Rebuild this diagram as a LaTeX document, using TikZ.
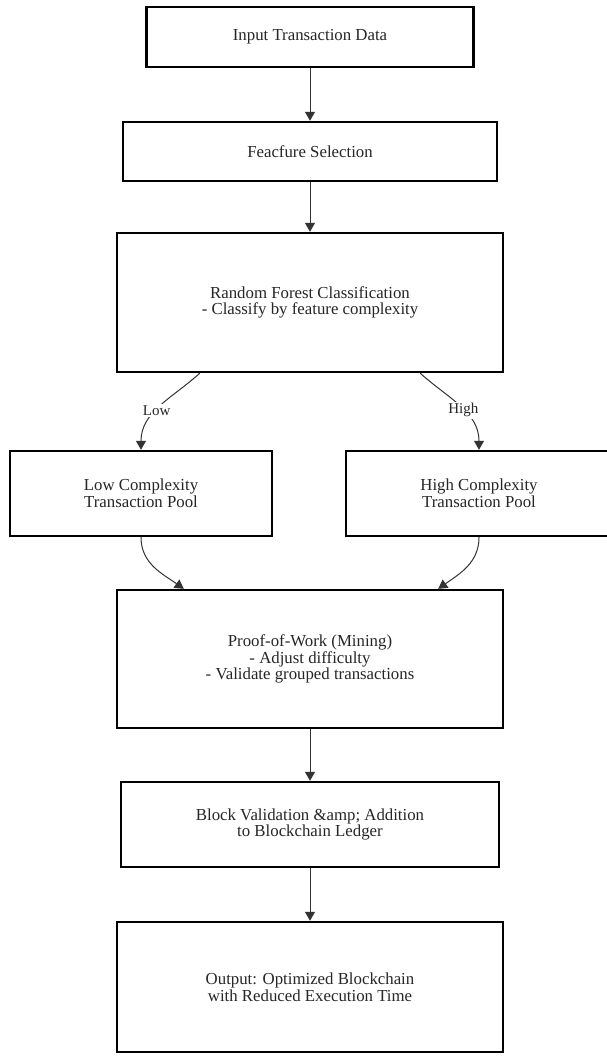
\documentclass[tikz,border=0pt]{standalone}
\usepackage{fontspec}
\setmainfont{Liberation Serif}
\usetikzlibrary{arrows.meta,calc}
\definecolor{txt}{HTML}{262626}
\definecolor{ln}{HTML}{333333}
\begin{document}
\begin{tikzpicture}[x=1pt,y=1pt,
  box/.style={draw=black, line width=2.4pt, fill=white, align=center, text=txt,
    font=\fontsize{16.8}{16.8}\selectfont, inner sep=0pt},
  arr/.style={draw=ln, line width=1pt, -{Triangle[width=10pt,length=9pt]}},
  lbl/.style={fill=white, text=txt, font=\fontsize{15}{16}\selectfont, inner sep=1.5pt}]
\useasboundingbox (0,0) rectangle (606,1058);
\fill[white] (0,0) rectangle (606,1058);
\node[box, minimum width=327pt, minimum height=60pt] (inp) at (310,1021) {Input Transaction Data};
\node[box, minimum width=374pt, minimum height=59pt] (fs) at (310,906.5) {Feacfure Selection};
\node[box, minimum width=386pt, minimum height=139pt] (rf) at (310,755.5) {Random Forest Classification\\- Classify by feature complexity};
\node[box, minimum width=262pt, minimum height=85pt] (low) at (141,564.5) {Low Complexity\\Transaction Pool};
\node[box, minimum width=266pt, minimum height=85pt] (high) at (479,564.5) {High Complexity\\Transaction Pool};
\node[box, minimum width=386pt, minimum height=138pt] (pow) at (310,399) {Proof-of-Work (Mining)\\- Adjust difficulty\\- Validate grouped transactions};
\node[box, minimum width=378pt, minimum height=85pt] (bv) at (310,233.5) {Block Validation \&amp; Addition\\to Blockchain Ledger};
\node[box, minimum width=386pt, minimum height=130pt] (outp) at (310,71) {Output: Optimized Blockchain\\with Reduced Execution Time};
\draw[arr] (inp.south) -- (fs.north);
\draw[arr] (fs.south) -- (rf.north);
\draw[arr] ($(rf.south west)+(84,0)$) to[out=222,in=90] node[lbl,pos=0.55]{Low} (low.north);
\draw[arr] ($(rf.south east)+(-84,0)$) to[out=-42,in=90] node[lbl,pos=0.55]{High} (high.north);
\draw[arr] (low.south) to[out=270,in=145] ($(pow.north west)+(68,0)$);
\draw[arr] (high.south) to[out=270,in=35] ($(pow.north east)+(-66,0)$);
\draw[arr] (pow.south) -- (bv.north);
\draw[arr] (bv.south) -- (outp.north);
\end{tikzpicture}
\end{document}
